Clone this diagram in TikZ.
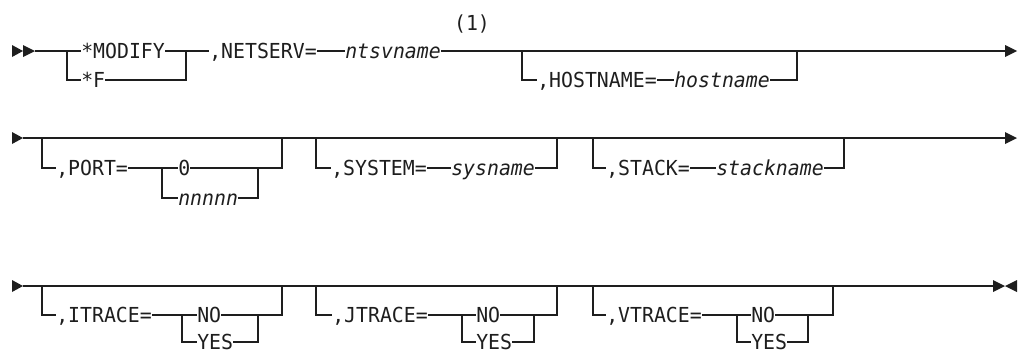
\documentclass[tikz,border=0pt]{standalone}
\usepackage{fontspec}
\newfontfamily\dmono[FakeStretch=0.96]{DejaVu Sans Mono}
\definecolor{ink}{HTML}{1E1E1E}
\tikzset{
  kw/.style={font=\dmono\fontsize{15.5pt}{18pt}\selectfont, text=ink, anchor=west, inner sep=0pt, text height=11.3pt, text depth=0pt},
  var/.style={kw, font=\dmono\itshape\fontsize{15.5pt}{18pt}\selectfont},
  rail/.style={draw=ink, line width=0.85pt, line join=miter},
  tip/.style={fill=ink},
}
\begin{document}
\begin{tikzpicture}[x=0.75pt, y=-0.75pt]
\useasboundingbox (0,0) rectangle (1018,351);

% ---------------- Row 1 ----------------
\fill[tip] (12,45) -- (23,51) -- (12,57) -- cycle;
\fill[tip] (23,45) -- (35,51) -- (23,57) -- cycle;
\coordinate (a1) at (35,51);
\coordinate (j1) at (67,51);  \coordinate (j1b) at (67,80);
\node[kw] (modify) at (81,51) {*MODIFY};
\node[kw] (fopt) at (81,80) {*F};
\coordinate (k1) at (186,51); \coordinate (k1b) at (186,80);
\node[kw] (netserv) at (209,51) {,NETSERV=};
\node[var] (ntsv) at (345,51) {ntsvname};
\node[kw, anchor=center] (note) at (472,23) {(1)};
\coordinate (j2) at (522,51); \coordinate (j2b) at (522,80);
\node[kw] (hostkw) at (537,80) {,HOSTNAME=};
\node[var] (hostv) at (674,80) {hostname};
\coordinate (k2) at (797,51); \coordinate (k2b) at (797,80);
\coordinate (e1) at (1005,51);
\fill[tip] (1005,45) -- (1017,51) -- (1005,57) -- cycle;

\path[rail] (a1) -- (j1) -- (modify.west);
\path[rail] (j1) -- (j1b) -- (fopt.west);
\path[rail] (modify.east) -- (k1) -- (netserv.west);
\path[rail] (fopt.east) -- (k1b) -- (k1);
\path[rail] (netserv.east) -- (ntsv.west);
\path[rail] (ntsv.east) -- (j2) -- (k2) -- (e1);
\path[rail] (j2) -- (j2b) -- (hostkw.west);
\path[rail] (hostkw.east) -- (hostv.west);
\path[rail] (hostv.east) -- (k2b) -- (k2);

% ---------------- Row 2 ----------------
\fill[tip] (12,132) -- (23,138) -- (12,144) -- cycle;
\coordinate (a2) at (23,138);
\coordinate (p1) at (42,138);  \coordinate (p1b) at (42,168);
\node[kw] (portkw) at (56,168) {,PORT=};
\coordinate (pi1) at (162,168); \coordinate (pi1b) at (162,198);
\node[kw] (zero) at (178,168) {0};
\node[var] (nnnnn) at (178,198) {nnnnn};
\coordinate (pi2) at (258,168); \coordinate (pi2b) at (258,198);
\coordinate (p2) at (282,138);  \coordinate (p2b) at (282,168);
\coordinate (s1) at (316,138);  \coordinate (s1b) at (316,168);
\node[kw] (syskw) at (331,168) {,SYSTEM=};
\node[var] (sysv) at (451,168) {sysname};
\coordinate (s2) at (557,138);  \coordinate (s2b) at (557,168);
\coordinate (t1) at (593,138);  \coordinate (t1b) at (593,168);
\node[kw] (stackkw) at (606,168) {,STACK=};
\node[var] (stackv) at (716,168) {stackname};
\coordinate (t2) at (844,138);  \coordinate (t2b) at (844,168);
\coordinate (e2) at (1005,138);
\fill[tip] (1005,132) -- (1017,138) -- (1005,144) -- cycle;

\path[rail] (a2) -- (e2);
\path[rail] (p1) -- (p1b) -- (portkw.west);
\path[rail] (portkw.east) -- (pi1) -- (zero.west);
\path[rail] (pi1) -- (pi1b) -- (nnnnn.west);
\path[rail] (zero.east) -- (pi2) -- (p2b) -- (p2);
\path[rail] (nnnnn.east) -- (pi2b) -- (pi2);
\path[rail] (s1) -- (s1b) -- (syskw.west);
\path[rail] (syskw.east) -- (sysv.west);
\path[rail] (sysv.east) -- (s2b) -- (s2);
\path[rail] (t1) -- (t1b) -- (stackkw.west);
\path[rail] (stackkw.east) -- (stackv.west);
\path[rail] (stackv.east) -- (t2b) -- (t2);

% ---------------- Row 3 ----------------
\fill[tip] (12,280) -- (23,286) -- (12,292) -- cycle;
\coordinate (a3) at (23,286);
% ITRACE
\coordinate (i1) at (42,286);   \coordinate (i1b) at (42,315);
\node[kw] (itrkw) at (56,315) {,ITRACE=};
\coordinate (ii1) at (182,315); \coordinate (ii1b) at (182,342);
\node[kw] (ino) at (197,315) {NO};
\node[kw] (iyes) at (197,342) {YES};
\coordinate (ii2) at (258,315); \coordinate (ii2b) at (258,342);
\coordinate (i2) at (282,286);  \coordinate (i2b) at (282,315);
% JTRACE
\coordinate (jt1) at (316,286);  \coordinate (jt1b) at (316,315);
\node[kw] (jtrkw) at (332,315) {,JTRACE=};
\coordinate (ji1) at (462,315);  \coordinate (ji1b) at (462,342);
\node[kw] (jno) at (476,315) {NO};
\node[kw] (jyes) at (476,342) {YES};
\coordinate (ji2) at (534,315);  \coordinate (ji2b) at (534,342);
\coordinate (jt2) at (557,286);  \coordinate (jt2b) at (557,315);
% VTRACE
\coordinate (v1) at (593,286);   \coordinate (v1b) at (593,315);
\node[kw] (vtrkw) at (606,315) {,VTRACE=};
\coordinate (vi1) at (737,315);  \coordinate (vi1b) at (737,342);
\node[kw] (vno) at (751,315) {NO};
\node[kw] (vyes) at (751,342) {YES};
\coordinate (vi2) at (808,315);  \coordinate (vi2b) at (808,342);
\coordinate (v2) at (833,286);   \coordinate (v2b) at (833,315);
\coordinate (th1) at (838,286);  \coordinate (th2) at (862,286);
\coordinate (e3) at (993,286);
\fill[tip] (993,280) -- (1005,286) -- (993,292) -- cycle;
\fill[tip] (1017,280) -- (1005,286) -- (1017,292) -- cycle;

\path[rail] (a3) -- (e3);
\path[rail, line width=1.5pt] (th1) -- (th2);
\path[rail] (i1) -- (i1b) -- (itrkw.west);
\path[rail] (itrkw.east) -- (ii1) -- (ino.west);
\path[rail] (ii1) -- (ii1b) -- (iyes.west);
\path[rail] (ino.east) -- (ii2) -- (i2b) -- (i2);
\path[rail] (iyes.east) -- (ii2b) -- (ii2);
\path[rail] (jt1) -- (jt1b) -- (jtrkw.west);
\path[rail] (jtrkw.east) -- (ji1) -- (jno.west);
\path[rail] (ji1) -- (ji1b) -- (jyes.west);
\path[rail] (jno.east) -- (ji2) -- (jt2b) -- (jt2);
\path[rail] (jyes.east) -- (ji2b) -- (ji2);
\path[rail] (v1) -- (v1b) -- (vtrkw.west);
\path[rail] (vtrkw.east) -- (vi1) -- (vno.west);
\path[rail] (vi1) -- (vi1b) -- (vyes.west);
\path[rail] (vno.east) -- (vi2) -- (v2b) -- (v2);
\path[rail] (vyes.east) -- (vi2b) -- (vi2);
\end{tikzpicture}
\end{document}
